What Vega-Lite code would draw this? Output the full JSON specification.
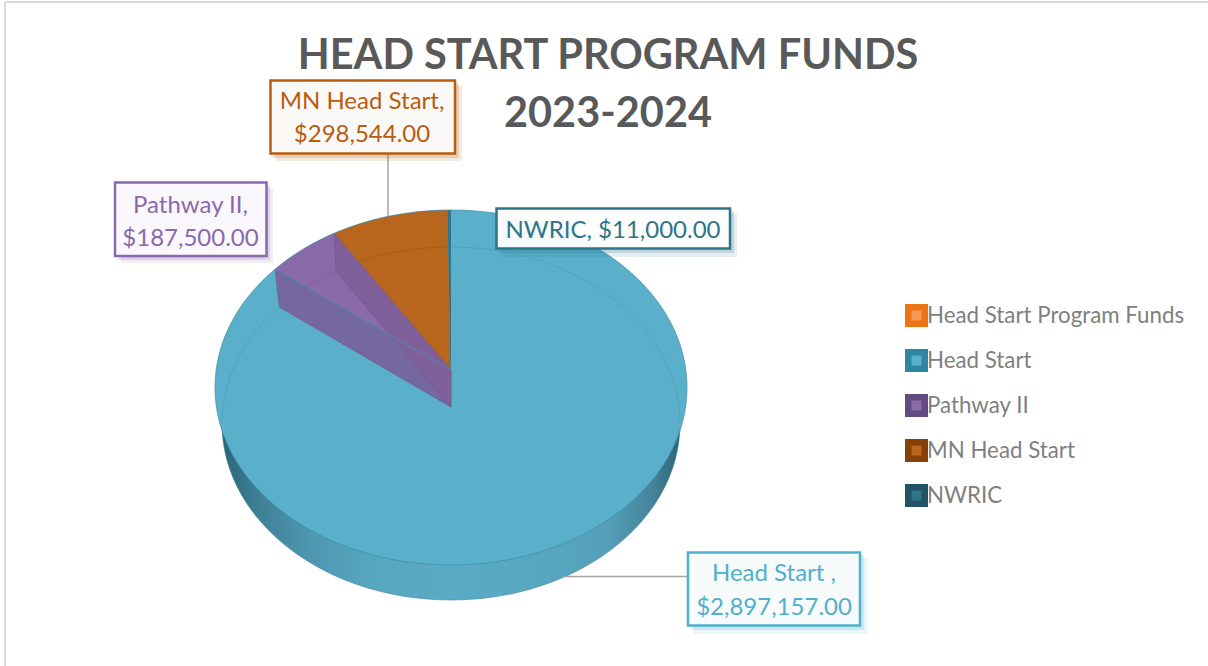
{"$schema":"https://vega.github.io/schema/vega-lite/v6.json","width":1208,"height":666,"padding":0,"autosize":{"type":"none"},"background":"white","view":{"stroke":null},
"title":{"text":["HEAD START PROGRAM FUNDS","2023-2024"],"font":"Lato","fontSize":41.5,"fontWeight":"bold","color":"#595959","lineHeight":58,"anchor":"middle","frame":"group","dx":4,"dy":135,"offset":0},
"data":{"values":[{"name":"Head Start","value":2897157,"label":"Head Start ,\n$2,897,157.00"},{"name":"Pathway II","value":187500,"label":"Pathway II,\n$187,500.00"},{"name":"MN Head Start","value":298544,"label":"MN Head Start,\n$298,544.00"},{"name":"NWRIC","value":11000,"label":"NWRIC,  $11,000.00"}]},
"layer":[
{"transform":[{"filter":"datum.name=='Head Start'"}],"mark":{"type":"rule","color":"#d9d9d9","strokeWidth":2},"encoding":{"x":{"datum":5,"type":"quantitative","scale":{"domain":[0,1208],"nice":false,"zero":false},"axis":null},"y":{"datum":2,"type":"quantitative","scale":{"domain":[666,0],"nice":false,"zero":false},"axis":null},"y2":{"datum":666}}},
{"transform":[{"filter":"datum.name=='Head Start'"}],"mark":{"type":"rule","color":"#d9d9d9","strokeWidth":2},"encoding":{"y":{"datum":2,"type":"quantitative"},"x":{"datum":5,"type":"quantitative"},"x2":{"datum":1208}}},
{"transform":[{"filter":"datum.name=='MN Head Start'"}],"mark":{"type":"rule","color":"#a6a6a6","strokeWidth":1.5},"encoding":{"x":{"datum":388,"type":"quantitative"},"y":{"datum":153,"type":"quantitative"},"y2":{"datum":216}}},
{"transform":[{"filter":"datum.name=='Head Start'"}],"mark":{"type":"point","filled":true,"opacity":1,"stroke":"#3f8098","strokeWidth":0.6,"color":{"gradient":"linear","x1":0,"y1":0,"x2":1,"y2":0,"stops":[{"offset":0,"color":"#2c6478"},{"offset":0.08,"color":"#3f8096"},{"offset":0.2,"color":"#4f98b1"},{"offset":0.32,"color":"#57a6bf"},{"offset":0.5,"color":"#5aabc5"},{"offset":0.72,"color":"#57a6bf"},{"offset":0.84,"color":"#559fb8"},{"offset":0.94,"color":"#44849b"},{"offset":1,"color":"#2c6478"}]}},"encoding":{"x":{"datum":451,"type":"quantitative"},"y":{"datum":387.5,"type":"quantitative"},"size":{"value":4},"shape":{"value":"M-229,36 A229,176.5 0 1 1 229,36 A229,176.5 0 1 1 -229,36 Z"}}},
{"mark":{"type":"point","filled":true,"opacity":1,"strokeWidth":0},"encoding":{"x":{"datum":451,"type":"quantitative"},"y":{"datum":387.5,"type":"quantitative"},"size":{"value":4},
"shape":{"field":"value","type":"nominal","legend":null,"scale":{"domain":[2897157,187500,298544,11000],"range":["M-236,0 A236,177.5 0 1 1 236,0 A236,177.5 0 1 1 -236,0 Z","M-176,-118.2 A236,177.5 0 0 1 -117,-154.2 L0,-17.5 Z","M-3.5,-177.5 A236,177.5 0 0 0 -117,-154.2 L-0.5,-17.5 Z","M0,-177.5 A236,177.5 0 0 0 -3.5,-177.5 L-0.5,-17.5 L0,-17.5 Z"]}},
"fill":{"field":"name","type":"nominal","sort":null,"title":null,"scale":{"domain":["Head Start Program Funds","Head Start","Pathway II","MN Head Start","NWRIC"],"range":["#f79a55","#5aafca","#8a6aa8","#b8651d","#2f7488"]},
"legend":{"orient":"none","legendX":905,"legendY":304,"symbolType":"square","symbolSize":272,"symbolStrokeWidth":6.5,"labelFont":"Lato","labelFontSize":22.3,"labelColor":"#7f7f7f","labelLimit":400,"labelOffset":-1,"rowPadding":2,"values":["Head Start Program Funds","Head Start","Pathway II","MN Head Start","NWRIC"],
"encode":{"symbols":{"update":{"strokeWidth":{"value":6.5},"strokeJoin":{"value":"round"},"opacity":{"value":1}}}}}},
"stroke":{"field":"name","type":"nominal","sort":null,"title":null,"scale":{"domain":["Head Start Program Funds","Head Start","Pathway II","MN Head Start","NWRIC"],"range":["#ed7414","#2f86a3","#634a82","#854108","#215363"]},
"legend":{"orient":"none","legendX":905,"legendY":304,"symbolType":"square","symbolSize":272,"symbolStrokeWidth":6.5,"labelFont":"Lato","labelFontSize":22.3,"labelColor":"#7f7f7f","labelLimit":400,"labelOffset":-1,"rowPadding":2,"values":["Head Start Program Funds","Head Start","Pathway II","MN Head Start","NWRIC"],
"encode":{"symbols":{"update":{"strokeWidth":{"value":6.5},"strokeJoin":{"value":"round"},"opacity":{"value":1}}}}}}}},
{"transform":[{"filter":"datum.name=='Head Start'"}],"mark":{"type":"point","filled":false,"opacity":1,"stroke":"#3f8ba8","strokeWidth":0.7,"fill":null},"encoding":{"x":{"datum":451,"type":"quantitative"},"y":{"datum":387.5,"type":"quantitative"},"size":{"value":4},"shape":{"value":"M-236,0 A236,177.5 0 1 1 236,0 A236,177.5 0 1 1 -236,0 Z"}}},
{"transform":[{"filter":"datum.name=='Head Start'"}],"mark":{"type":"point","filled":false,"opacity":0.8,"stroke":"#4a9dba","strokeWidth":0.8,"fill":null},"encoding":{"x":{"datum":451,"type":"quantitative"},"y":{"datum":387.5,"type":"quantitative"},"size":{"value":4},"shape":{"value":"M-229,36 A229,176.5 0 0 1 -172,-80.5 M0,-140.5 A229,176.5 0 0 1 229,36"}}},
{"transform":[{"filter":"datum.name=='MN Head Start'"}],"mark":{"type":"point","filled":false,"opacity":1,"stroke":"#a65a18","strokeWidth":0.8,"fill":null},"encoding":{"x":{"datum":451,"type":"quantitative"},"y":{"datum":387.5,"type":"quantitative"},"size":{"value":4},"shape":{"value":"M-93,-125.3 A229,176.5 0 0 1 -3.5,-140.5"}}},
{"transform":[{"filter":"datum.name=='Pathway II'"}],"mark":{"type":"point","filled":true,"opacity":1,"color":"#8a6aa8","stroke":"#7a5c98","strokeWidth":0.6},"encoding":{"x":{"datum":451,"type":"quantitative"},"y":{"datum":387.5,"type":"quantitative"},"size":{"value":4},"shape":{"value":"M-172,-80.5 A229,176.5 0 0 1 -115,-116.6 L0,19.5 Z"}}},
{"transform":[{"filter":"datum.name=='Pathway II'"}],"mark":{"type":"point","filled":true,"opacity":1,"color":"#7567a0","stroke":"#6c6098","strokeWidth":0.6},"encoding":{"x":{"datum":451,"type":"quantitative"},"y":{"datum":387.5,"type":"quantitative"},"size":{"value":4},"shape":{"value":"M-176,-118.2 L-172,-81.5 L0,19.5 L0,-17.5 Z"}}},
{"transform":[{"filter":"datum.name=='Pathway II'"}],"mark":{"type":"point","filled":true,"opacity":1,"color":"#80609a","stroke":"#745590","strokeWidth":0.6},"encoding":{"x":{"datum":451,"type":"quantitative"},"y":{"datum":387.5,"type":"quantitative"},"size":{"value":4},"shape":{"value":"M-117,-154.2 L-115,-116.6 L0,19.5 L0,-17.5 Z"}}},
{"transform":[{"filter":"datum.name=='Pathway II'"}],"mark":{"type":"point","filled":false,"opacity":1,"stroke":"#4a8ca8","strokeWidth":1,"fill":null},"encoding":{"x":{"datum":451,"type":"quantitative"},"y":{"datum":387.5,"type":"quantitative"},"size":{"value":4},"shape":{"value":"M-176,-118.2 L0,-17.5"}}},
{"transform":[{"filter":"datum.name=='Head Start'"}],"mark":{"type":"rule","color":"#a6a6a6","strokeWidth":1.5},"encoding":{"y":{"datum":576.5,"type":"quantitative"},"x":{"datum":563,"type":"quantitative"},"x2":{"datum":688}}},

{"transform":[{"filter":"datum.name=='MN Head Start'"}],"mark":{"type":"rect","color":"#b85c0f","opacity":0.12},"encoding":{"x":{"datum":276,"type":"quantitative"},"x2":{"datum":462},"y":{"datum":86,"type":"quantitative"},"y2":{"datum":161}}},
{"transform":[{"filter":"datum.name=='MN Head Start'"}],"mark":{"type":"rect","color":"#b85c0f","opacity":0.2},"encoding":{"x":{"datum":273,"type":"quantitative"},"x2":{"datum":459},"y":{"datum":83,"type":"quantitative"},"y2":{"datum":158}}},
{"transform":[{"filter":"datum.name=='MN Head Start'"}],"mark":{"type":"rect","fill":"#fbf9f8","stroke":"#b85c0f","strokeWidth":2.5},"encoding":{"x":{"datum":270.5,"type":"quantitative"},"x2":{"datum":455},"y":{"datum":80.5,"type":"quantitative"},"y2":{"datum":153.5}}},
{"transform":[{"filter":"datum.name=='MN Head Start'"}],"mark":{"type":"text","font":"Lato","fontSize":24,"color":"#b85c0f","lineBreak":"\n","lineHeight":33,"baseline":"middle","align":"center"},"encoding":{"x":{"datum":362,"type":"quantitative"},"y":{"datum":102,"type":"quantitative"},"text":{"field":"label","type":"nominal"}}},

{"transform":[{"filter":"datum.name=='Pathway II'"}],"mark":{"type":"rect","color":"#8a6ab0","opacity":0.12},"encoding":{"x":{"datum":121,"type":"quantitative"},"x2":{"datum":273},"y":{"datum":188,"type":"quantitative"},"y2":{"datum":263}}},
{"transform":[{"filter":"datum.name=='Pathway II'"}],"mark":{"type":"rect","color":"#8a6ab0","opacity":0.2},"encoding":{"x":{"datum":118,"type":"quantitative"},"x2":{"datum":270},"y":{"datum":185,"type":"quantitative"},"y2":{"datum":260}}},
{"transform":[{"filter":"datum.name=='Pathway II'"}],"mark":{"type":"rect","fill":"#faf8fc","stroke":"#8a68ad","strokeWidth":2.5},"encoding":{"x":{"datum":115,"type":"quantitative"},"x2":{"datum":266.5},"y":{"datum":182.5,"type":"quantitative"},"y2":{"datum":256}}},
{"transform":[{"filter":"datum.name=='Pathway II'"}],"mark":{"type":"text","font":"Lato","fontSize":24,"color":"#8a68ad","lineBreak":"\n","lineHeight":33,"baseline":"middle","align":"center"},"encoding":{"x":{"datum":190.5,"type":"quantitative"},"y":{"datum":205.5,"type":"quantitative"},"text":{"field":"label","type":"nominal"}}},

{"transform":[{"filter":"datum.name=='NWRIC'"}],"mark":{"type":"rect","color":"#2d7488","opacity":0.12},"encoding":{"x":{"datum":502,"type":"quantitative"},"x2":{"datum":737},"y":{"datum":214,"type":"quantitative"},"y2":{"datum":257}}},
{"transform":[{"filter":"datum.name=='NWRIC'"}],"mark":{"type":"rect","color":"#2d7488","opacity":0.2},"encoding":{"x":{"datum":499,"type":"quantitative"},"x2":{"datum":734},"y":{"datum":211,"type":"quantitative"},"y2":{"datum":253}}},
{"transform":[{"filter":"datum.name=='NWRIC'"}],"mark":{"type":"rect","fill":"#ffffff","fillOpacity":0.94,"stroke":"#2d7488","strokeWidth":2.5},"encoding":{"x":{"datum":496.5,"type":"quantitative"},"x2":{"datum":730},"y":{"datum":208.5,"type":"quantitative"},"y2":{"datum":248.5}}},
{"transform":[{"filter":"datum.name=='NWRIC'"}],"mark":{"type":"text","font":"Lato","fontSize":24,"color":"#2d7488","baseline":"middle","align":"center"},"encoding":{"x":{"datum":613,"type":"quantitative"},"y":{"datum":231,"type":"quantitative"},"text":{"field":"label","type":"nominal"}}},

{"transform":[{"filter":"datum.name=='Head Start'"}],"mark":{"type":"rect","color":"#4fb0cb","opacity":0.12},"encoding":{"x":{"datum":694,"type":"quantitative"},"x2":{"datum":867},"y":{"datum":558,"type":"quantitative"},"y2":{"datum":634}}},
{"transform":[{"filter":"datum.name=='Head Start'"}],"mark":{"type":"rect","color":"#4fb0cb","opacity":0.2},"encoding":{"x":{"datum":691,"type":"quantitative"},"x2":{"datum":864},"y":{"datum":555,"type":"quantitative"},"y2":{"datum":630}}},
{"transform":[{"filter":"datum.name=='Head Start'"}],"mark":{"type":"rect","fill":"#f7fbfc","stroke":"#4fb0cb","strokeWidth":2.5},"encoding":{"x":{"datum":688,"type":"quantitative"},"x2":{"datum":860},"y":{"datum":552.5,"type":"quantitative"},"y2":{"datum":625.5}}},
{"transform":[{"filter":"datum.name=='Head Start'"}],"mark":{"type":"text","font":"Lato","fontSize":24,"color":"#4fb0cb","lineBreak":"\n","lineHeight":34,"baseline":"middle","align":"center"},"encoding":{"x":{"datum":774,"type":"quantitative"},"y":{"datum":574,"type":"quantitative"},"text":{"field":"label","type":"nominal"}}}
]}
